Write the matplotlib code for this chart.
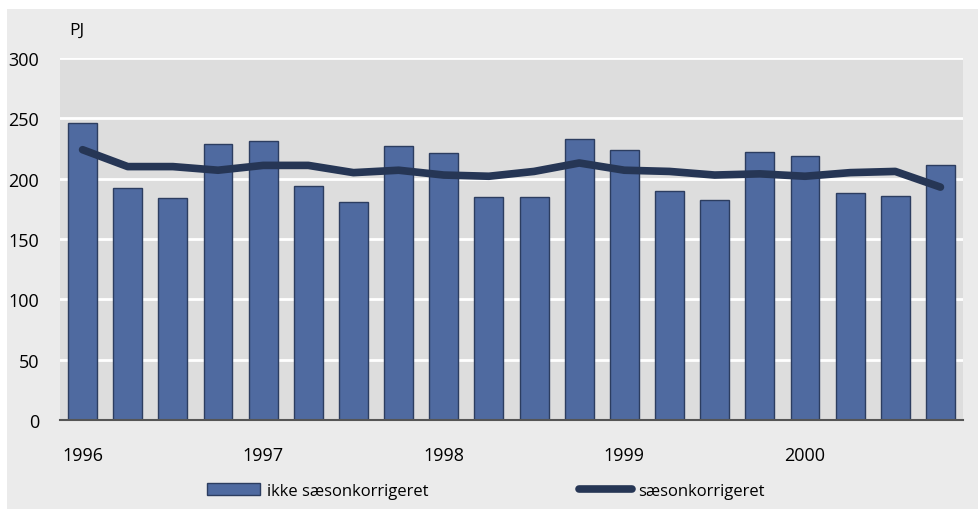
import numpy as np
import matplotlib.pyplot as plt
from matplotlib.patches import Rectangle, Patch
from matplotlib.lines import Line2D

plt.rcParams['font.family'] = ['Open Sans', 'DejaVu Sans']

# quarterly values, PJ
ikke = [246, 192, 184, 229, 231, 194, 181, 227, 221, 185,
        185, 233, 224, 190, 182, 222, 219, 188, 186, 211]
saeson = [224, 210, 210, 207, 211, 211, 205, 207, 203, 202,
          206, 213, 207, 206, 203, 204, 202, 205, 206, 193]
years = ['1996', '1997', '1998', '1999', '2000']

W, H = 979, 510
fig = plt.figure(figsize=(W / 100, H / 100), dpi=100)
fig.patch.set_facecolor('white')
# light gray panel behind everything
fig.patches.append(Rectangle((7 / W, 0), 1, 1 - 10 / H, transform=fig.transFigure,
                             facecolor='#ebebeb', edgecolor='none', zorder=-1))

ax = fig.add_axes([60 / W, (H - 421) / H, 903 / W, 362 / H])
ax.set_facecolor('#dddddd')

x = np.arange(len(ikke))
ax.bar(x, ikke, width=0.64, color='#4f6aa0', edgecolor='#2c3d60', linewidth=1, zorder=2)
ax.plot(x, saeson, color='#263655', linewidth=5.5, solid_capstyle='round',
        solid_joinstyle='round', zorder=3)

ax.set_xlim(-0.5, len(ikke) - 0.5)
ax.set_ylim(0, 300)
ax.set_yticks(np.arange(0, 301, 50))
ax.yaxis.grid(True, color='white', linewidth=2)
ax.set_axisbelow(True)
ax.set_xticks(np.arange(0, len(ikke), 4))
ax.set_xticklabels(years)
ax.tick_params(axis='both', length=0, labelsize=13, colors='black')
ax.tick_params(axis='x', pad=19)
ax.tick_params(axis='y', pad=15)

for s in ['top', 'right', 'left']:
    ax.spines[s].set_visible(False)
ax.spines['bottom'].set_color('#555555')
ax.spines['bottom'].set_linewidth(1.5)
ax.spines['bottom'].set_zorder(4)

fig.text(69 / W, 1 - 31 / H, 'PJ', fontsize=12.5, va='center', ha='left')

handles = [Patch(facecolor='#4f6aa0', edgecolor='#2c3d60', linewidth=1),
           Line2D([0], [0], color='#263655', linewidth=5.5, solid_capstyle='round')]
fig.legend(handles, ['ikke sæsonkorrigeret', 'sæsonkorrigeret'], ncol=2,
           loc='center', bbox_to_anchor=(486 / W, 1 - 492 / H), frameon=False,
           fontsize=12, handlelength=3.2, handleheight=0.7, handletextpad=0.4,
           columnspacing=9.0)

fig.savefig('out.png', dpi=100, facecolor=fig.get_facecolor())
